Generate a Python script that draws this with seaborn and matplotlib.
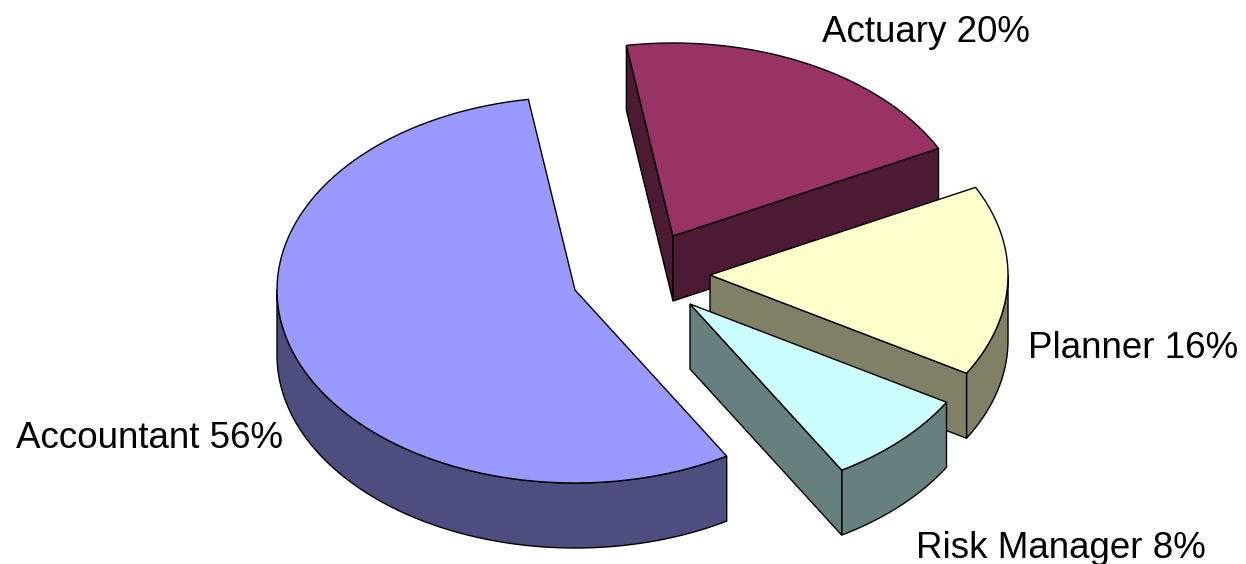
import numpy as np
import seaborn as sns
import matplotlib.pyplot as plt

# Slices, clockwise from the first cut
jobs = ['Actuary', 'Planner', 'Risk Manager', 'Accountant']
shares = [20, 16, 8, 56]
top_colors = ['#993366', '#FFFFCC', '#CCFFFF', '#9999FF']
side_colors = ['#4D1A33', '#808066', '#668080', '#4D4D80']

# Pie geometry, in pixels
first_cut = -9
rx, ry = 298, 193
depth = 65
apexes = [(673, 236), (710, 275), (690, 304), (575, 290)]
label_pos = [(926, 32), (1133, 348), (1061, 548), (150, 439)]

sns.set_theme(style='white')
plt.rcParams['font.family'] = ['Liberation Sans', 'DejaVu Sans']

fig, ax = plt.subplots(figsize=(12.46, 5.64), dpi=100)
fig.subplots_adjust(0, 0, 1, 1)
ax.set_xlim(0, 1246)
ax.set_ylim(564, 0)
ax.axis('off')


def rim(cx, cy, a, b):
    # points on the ellipse, angle clockwise from the top
    t = np.radians(np.linspace(a, b, 100))
    return cx + rx * np.sin(t), cy - ry * np.cos(t)


def face(xs, ys, color, z):
    ax.fill(xs, ys, facecolor=color, edgecolor='black', lw=1, zorder=z)


# cumulative angles come from the shares
edges = first_cut + np.cumsum([0] + shares) * 3.6
# slice index -> which cuts turn towards the viewer
open_cuts = {0: [0, 1], 1: [1], 2: [1], 3: []}

for n, i in enumerate([0, 1, 3, 2]):
    a, b = edges[i], edges[i + 1]
    cx, cy = apexes[i]
    z = n * 10 + 1

    # outer wall, only the part that faces the viewer
    lo, hi = max(a, 90), min(b, 270)
    if lo < hi:
        x, y = rim(cx, cy, lo, hi)
        face(np.r_[x, x[::-1]], np.r_[y, y[::-1] + depth], side_colors[i], z)

    for k in open_cuts[i]:
        x, y = rim(cx, cy, edges[i + k], edges[i + k])
        face([cx, x[0], x[0], cx], [cy, y[0], y[0] + depth, cy + depth], side_colors[i], z)

    # top
    x, y = rim(cx, cy, a, b)
    face(np.r_[cx, x], np.r_[cy, y], top_colors[i], z + 1)

for job, share, (lx, ly) in zip(jobs, shares, label_pos):
    ax.text(lx, ly, f'{job} {share}%', fontsize=26.5, color='black', ha='center', va='center', zorder=100)

fig.savefig('out.png', dpi=100)
